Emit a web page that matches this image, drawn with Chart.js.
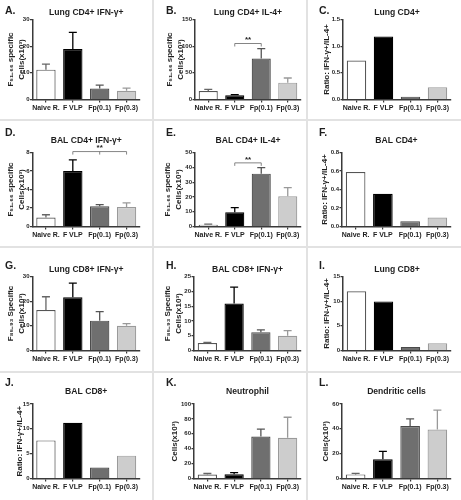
<!DOCTYPE html>
<html><head><meta charset="utf-8">
<script src="https://cdn.jsdelivr.net/npm/chart.js@4.4.1/dist/chart.umd.min.js"></script>
<style>
html,body{margin:0;padding:0;background:#fff;}
#fig{position:relative;width:461px;height:500px;overflow:hidden;background:#e2e2e2;}
canvas{position:absolute;background:#fff;}
</style></head>
<body><div id="fig"></div>
<script>
// ---------- data ----------
const categories = ['Naive R.', 'F VLP', 'Fp(0.1)', 'Fp(0.3)'];

const aMeans = [11.2, 18.9, 4.1, 3.3];   const aErrors = [2.1, 6.3, 1.3, 1.0];
const bMeans = [16, 8, 77, 31.6];        const bErrors = [3, 1, 18.5, 8.7];
const cRatios = [0.73, 1.18, 0.05, 0.23];
const dMeans = [0.98, 6.0, 2.18, 2.1];   const dErrors = [0.29, 1.2, 0.18, 0.45];
const eMeans = [1.1, 9.7, 35.7, 20.4];   const eErrors = [0.5, 3.0, 4.1, 5.8];
const fRatios = [0.59, 0.353, 0.058, 0.098];
const gMeans = [16.4, 21.6, 12.1, 10.0]; const gErrors = [5.4, 5.7, 3.7, 0.9];
const hMeans = [2.5, 15.9, 6.2, 5.0];    const hErrors = [0.2, 5.5, 0.8, 1.7];
const iRatios = [12.0, 9.95, 0.73, 1.46];
const jRatios = [7.67, 11.2, 2.2, 4.6];
const kMeans = [5.3, 5.8, 56.4, 54.7];   const kErrors = [1.4, 2.2, 9.8, 27.5];
const lMeans = [3.3, 15.5, 42.2, 39.5];  const lErrors = [0.8, 6.3, 5.8, 15.5];

const aTicks = [0, 10, 20, 30];
const bTicks = [0, 50, 100, 150];
const cTicks = [0, 0.5, 1.0, 1.5];
const dTicks = [0, 2, 4, 6, 8];
const eTicks = [0, 10, 20, 30, 40, 50];
const fTicks = [0, 0.2, 0.4, 0.6, 0.8];
const gTicks = [0, 10, 20, 30];
const hTicks = [0, 5, 10, 15, 20, 25];
const iTicks = [0, 5, 10, 15];
const jTicks = [0, 5, 10, 15];
const kTicks = [0, 20, 40, 60, 80, 100];
const lTicks = [0, 20, 40, 60];

const titleF5166 = ['F\u2085\u2081\u208B\u2086\u2086 specific', 'Cells(x10\u00B3)'];
const titleF8593 = ['F\u2088\u2085\u208B\u2089\u2083 Specific', 'Cells(x10\u00B3)'];
const titleRatio = ['Ratio: IFN-\u03B3+/IL-4+'];
const titleCells = ['Cells(x10\u00B3)'];

// significance: from category index, to indices, at value
const bSig = {from: 1, to: [2], value: 105, label: '**'};
const dSig = {from: 1, to: [2, 3], value: 8.1, label: '**'};
const eSig = {from: 1, to: [2], value: 43, label: '**'};

// ---------- styles / layout ----------
const FONT = "'Liberation Sans', Arial, sans-serif";
const barFills   = ['#ffffff', '#000000', '#6f6f6f', '#cdcdcd'];
const barBorders = ['#555555', '#000000', '#4a4a4a', '#9a9a9a'];
const errColors  = ['#666666', '#000000', '#555555', '#999999'];
const axisColor = '#3a3a3a';
const textColor = '#1e1e1e';

const colGeom = [
  {x: 0,   w: 152, axis: 32.5, right: 140, letter: 5,   t1: 11},
  {x: 154, w: 152, axis: 195,  right: 301, letter: 166, t1: 170},
  {x: 308, w: 153, axis: 343,  right: 451, letter: 319, t1: 327}
];
const rowGeom = [
  {y: 0,   h: 119, top: 19.5,  bottom: 99.5,  title: 13,  letter: 11},
  {y: 121, h: 125, top: 152.5, bottom: 226.5, title: 141, letter: 133},
  {y: 248, h: 123, top: 276.5, bottom: 350.5, title: 270, letter: 266},
  {y: 373, h: 127, top: 404,   bottom: 478.5, title: 392, letter: 383}
];

const panels = [
  {id:'A.', col:0,row:0, title:'Lung CD4+ IFN-\u03B3+', v:aMeans, e:aErrors, ticks:aTicks, dec:0, yt:titleF5166},
  {id:'B.', col:1,row:0, title:'Lung CD4+ IL-4+',      v:bMeans, e:bErrors, ticks:bTicks, dec:0, yt:titleF5166, sig:bSig},
  {id:'C.', col:2,row:0, title:'Lung CD4+',            v:cRatios, ticks:cTicks, dec:1, yt:titleRatio},
  {id:'D.', col:0,row:1, title:'BAL CD4+ IFN-\u03B3+', v:dMeans, e:dErrors, ticks:dTicks, dec:0, yt:titleF5166, sig:dSig},
  {id:'E.', col:1,row:1, title:'BAL CD4+ IL-4+',       v:eMeans, e:eErrors, ticks:eTicks, dec:0, yt:titleF5166, sig:eSig, t1:168},
  {id:'F.', col:2,row:1, title:'BAL CD4+',             v:fRatios, ticks:fTicks, dec:1, yt:titleRatio, axis:342, t1:325},
  {id:'G.', col:0,row:2, title:'Lung CD8+ IFN-\u03B3+', v:gMeans, e:gErrors, ticks:gTicks, dec:0, yt:titleF8593},
  {id:'H.', col:1,row:2, title:'BAL CD8+ IFN-\u03B3+', v:hMeans, e:hErrors, ticks:hTicks, dec:0, yt:titleF8593, axis:194, t1:168},
  {id:'I.', col:2,row:2, title:'Lung CD8+',            v:iRatios, ticks:iTicks, dec:0, yt:titleRatio},
  {id:'J.', col:0,row:3, title:'BAL CD8+',             v:jRatios, ticks:jTicks, dec:0, yt:titleRatio, t1:20},
  {id:'K.', col:1,row:3, title:'Neutrophil',           v:kMeans, e:kErrors, ticks:kTicks, dec:0, yt:titleCells, axis:194, t1:175},
  {id:'L.', col:2,row:3, title:'Dendritic cells',      v:lMeans, e:lErrors, ticks:lTicks, dec:0, yt:titleCells, axis:342, t1:326}
];

const errorBarPlugin = {
  id: 'errorBars',
  afterDatasetsDraw(chart) {
    const errs = chart.options.plugins.errorBars.errors;
    if (!errs) return;
    const ctx = chart.ctx, meta = chart.getDatasetMeta(0), ys = chart.scales.y;
    const vals = chart.data.datasets[0].data;
    ctx.save();
    meta.data.forEach((bar, i) => {
      const y0 = ys.getPixelForValue(vals[i]);
      const y1 = ys.getPixelForValue(vals[i] + errs[i]);
      ctx.strokeStyle = errColors[i];
      ctx.lineWidth = 1.3;
      ctx.beginPath();
      ctx.moveTo(bar.x, y0); ctx.lineTo(bar.x, y1);
      ctx.moveTo(bar.x - 4, y1); ctx.lineTo(bar.x + 4, y1);
      ctx.stroke();
    });
    ctx.restore();
  }
};

const decorPlugin = {
  id: 'decor',
  afterDraw(chart) {
    const o = chart.options.plugins.decor;
    const ctx = chart.ctx, ca = chart.chartArea;
    ctx.save();
    ctx.fillStyle = textColor;
    ctx.textBaseline = 'middle';
    ctx.font = 'bold 10.5px ' + FONT;
    ctx.textAlign = 'left';
    ctx.fillText(o.letter, o.letterX, o.letterY);
    ctx.font = 'bold 8.6px ' + FONT;
    ctx.textAlign = 'center';
    ctx.fillText(o.title, (ca.left + ca.right) / 2, o.titleY);
    const s = o.sig;
    if (s) {
      const meta = chart.getDatasetMeta(0), ys = chart.scales.y;
      const y = ys.getPixelForValue(s.value);
      const xs = [s.from].concat(s.to).map(i => meta.data[i].x);
      const x0 = xs[0], x1 = xs[xs.length - 1];
      ctx.strokeStyle = '#777';
      ctx.lineWidth = 0.9;
      ctx.beginPath();
      ctx.moveTo(x0, y); ctx.lineTo(x1, y);
      xs.forEach(x => { ctx.moveTo(x, y); ctx.lineTo(x, y + 3); });
      ctx.stroke();
      ctx.font = 'bold 8px ' + FONT;
      ctx.fillText(s.label, (x0 + x1) / 2, y - 3.5);
    }
    ctx.restore();
  }
};

const fig = document.getElementById('fig');
panels.forEach(p => {
  const c = colGeom[p.col], r = rowGeom[p.row];
  const axisX = p.axis || c.axis;
  const t1 = p.t1 || c.t1;
  const canvas = document.createElement('canvas');
  canvas.width = c.w; canvas.height = r.h;
  canvas.style.left = c.x + 'px'; canvas.style.top = r.y + 'px';
  canvas.style.width = c.w + 'px'; canvas.style.height = r.h + 'px';
  fig.appendChild(canvas);
  const lh = 10.5;
  const tickList = p.ticks;
  new Chart(canvas.getContext('2d'), {
    type: 'bar',
    data: {
      labels: categories,
      datasets: [{
        data: p.v,
        backgroundColor: barFills,
        borderColor: barBorders,
        borderWidth: 1.2,
        barPercentage: 0.72,
        categoryPercentage: 1
      }]
    },
    options: {
      responsive: false,
      animation: false,
      devicePixelRatio: 1,
      layout: {padding: {top: r.top - r.y, right: c.x + c.w - c.right, bottom: 0, left: 0}},
      plugins: {
        legend: {display: false},
        tooltip: {enabled: false},
        errorBars: {errors: p.e || null},
        decor: {letter: p.id, letterX: c.letter - c.x, letterY: r.letter - r.y,
                title: p.title, titleY: r.title - r.y, sig: p.sig || null}
      },
      scales: {
        x: {
          grid: {display: true, drawOnChartArea: false, drawTicks: true, tickLength: 3,
                 offset: false, color: axisColor, lineWidth: 1.2},
          border: {display: true, color: axisColor, width: 1.5},
          ticks: {font: {family: FONT, size: 7, weight: 'bold'}, color: textColor,
                  padding: 1, maxRotation: 0, minRotation: 0, autoSkip: false},
          afterFit(s) { s.height = r.y + r.h - r.bottom; }
        },
        y: {
          min: tickList[0], max: tickList[tickList.length - 1],
          afterBuildTicks(s) { s.ticks = tickList.map(v => ({value: v})); },
          grid: {display: true, drawOnChartArea: false, drawTicks: true, tickLength: 2.5,
                 color: axisColor, lineWidth: 1.2},
          border: {display: true, color: axisColor, width: 1.5},
          ticks: {font: {family: FONT, size: 6, weight: 'bold'}, color: textColor, padding: 0.5,
                  callback: v => Number(v).toFixed(p.dec)},
          title: {display: true, text: p.yt, color: textColor,
                  font: {family: FONT, size: 8, weight: 'bold', lineHeight: lh + 'px'},
                  padding: {top: t1 - c.x - lh / 2, bottom: 0}},
          afterFit(s) { s.width = axisX - c.x; }
        }
      }
    },
    plugins: [errorBarPlugin, decorPlugin]
  });
});
</script>
</body></html>
